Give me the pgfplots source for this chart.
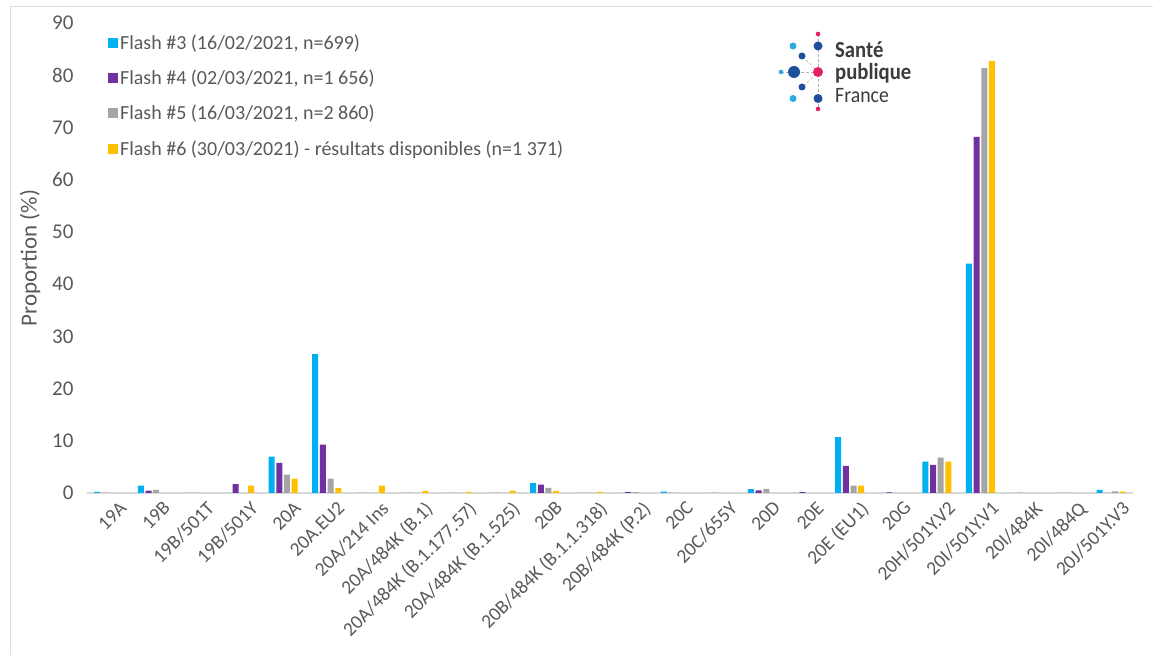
\documentclass[border=0pt]{standalone}
\usepackage{fontspec}
\setmainfont{Carlito}
\usepackage{pgfplots}
\pgfplotsset{compat=1.18}
\definecolor{cF3}{HTML}{00B0F0}
\definecolor{cF4}{HTML}{7030A0}
\definecolor{cF5}{HTML}{A5A5A5}
\definecolor{cF6}{HTML}{FFC000}
\definecolor{txt}{HTML}{595959}
\definecolor{lgblue}{HTML}{1F4E9B}
\definecolor{lgcyan}{HTML}{29ABE2}
\definecolor{lgpink}{HTML}{E5206A}
\definecolor{lgtext}{HTML}{3C3C3C}
\pgfplotsset{mylegend/.style={legend image code/.code={\fill[##1] (0pt,-5pt) rectangle (10pt,5pt);}}}
\begin{document}
\begin{tikzpicture}[x=1pt,y=1pt]
\useasboundingbox (0,0) rectangle (1153,655);
\draw[black!13, line width=1.2pt] (10.5,0) -- (10.5,648.5) -- (1153,648.5);
\begin{axis}[
  at={(87pt,162pt)}, anchor=south west,
  scale only axis, width=1046pt, height=470pt,
  xmin=-0.5, xmax=23.5, ymin=0, ymax=90,
  ybar=1.7pt, bar width=6pt,
  axis x line*=bottom, axis y line*=left,
  x axis line style={draw=black!15, line width=1.5pt},
  y axis line style={draw=none},
  major tick length=0pt,
  xtick={0,...,23},
  xticklabels={19A,19B,19B/501T,19B/501Y,20A,20A.EU2,20A/214 Ins,20A/484K (B.1),20A/484K (B.1.177.57),20A/484K (B.1.525),20B,20B/484K (B.1.1.318),20B/484K (P.2),20C,20C/655Y,20D,20E,20E (EU1),20G,20H/501Y.V2,20I/501Y.V1,20I/484K,20I/484Q,20J/501Y.V3},
  ytick={0,10,...,90},
  /pgf/number format/assume math mode=true,
  yticklabel style={font=\fontsize{21}{21}\selectfont, text=txt, xshift=-10pt},
  xticklabel style={rotate=45, anchor=north east, font=\fontsize{19.5}{20}\selectfont, text=txt, inner sep=1pt, yshift=-11pt, xshift=3pt},
  ylabel={Proportion (\%)},
  ylabel style={font=\fontsize{23}{23}\selectfont, text=txt, at={(axis description cs:-0.0545,0.5)}, anchor=center},
  legend style={at={(0.020,0.979)}, anchor=north west, draw=none, fill=none,
    font=\fontsize{20}{20}\selectfont, text=txt, row sep=15pt, inner sep=0pt,
    /tikz/every even column/.append style={column sep=9pt},
    legend cell align=left},
  legend cell align=left,
]
\addplot[fill=cF3, draw=none, mylegend] coordinates {
(0,0.2) (1,1.4) (2,0) (3,0) (4,6.95) (5,26.6) (6,0) (7,0) (8,0) (9,0) (10,1.9) (11,0)
(12,0) (13,0.25) (14,0) (15,0.75) (16,0) (17,10.7) (18,0) (19,6.0) (20,43.9) (21,0) (22,0) (23,0.6)};
\addplot[fill=cF4, draw=none, mylegend] coordinates {
(0,0) (1,0.45) (2,0) (3,1.7) (4,5.75) (5,9.25) (6,0) (7,0) (8,0) (9,0) (10,1.6) (11,0)
(12,0.15) (13,0) (14,0) (15,0.5) (16,0.15) (17,5.2) (18,0.1) (19,5.4) (20,68.2) (21,0) (22,0) (23,0)};
\addplot[fill=cF5, draw=none, mylegend] coordinates {
(0,0) (1,0.6) (2,0) (3,0) (4,3.5) (5,2.75) (6,0) (7,0) (8,0) (9,0) (10,1.0) (11,0)
(12,0.15) (13,0) (14,0) (15,0.8) (16,0) (17,1.4) (18,0) (19,6.75) (20,81.4) (21,0) (22,0) (23,0.3)};
\addplot[fill=cF6, draw=none, mylegend] coordinates {
(0,0) (1,0) (2,0) (3,1.4) (4,2.75) (5,0.95) (6,1.4) (7,0.4) (8,0.2) (9,0.45) (10,0.4) (11,0.2)
(12,0) (13,0) (14,0) (15,0) (16,0) (17,1.4) (18,0) (19,6.0) (20,82.7) (21,0) (22,0) (23,0.25)};
\legend{Flash \#3 (16/02/2021{,} n=699),Flash \#4 (02/03/2021{,} n=1 656),Flash \#5 (16/03/2021{,} n=2 860),Flash \#6 (30/03/2021) - résultats disponibles (n=1 371)}
\end{axis}
% logo
\begin{scope}[shift={(0,655)}, y=-1pt]
\draw[black!30, densely dashed, line width=0.6pt] (818,34) -- (818,109);
\draw[black!30, densely dashed, line width=0.6pt] (781,72) -- (818,72);
\draw[black!30, densely dashed, line width=0.6pt] (802,56) -- (818,72) -- (802,88);
\fill[lgpink] (818,34) circle (2.3);
\fill[lgblue] (818,46) circle (4.5);
\fill[lgcyan] (793,46) circle (3.5);
\fill[lgblue] (802,56) circle (3.5);
\fill[lgcyan] (781,72) circle (2.3);
\fill[lgblue] (794,72) circle (6);
\fill[lgpink] (818,72) circle (5);
\fill[lgblue] (802,87) circle (3.5);
\fill[lgcyan] (793,98.5) circle (3.5);
\fill[lgblue] (818,98.5) circle (4.5);
\fill[lgpink] (818,109) circle (2.3);
\node[anchor=west, inner sep=0, text=lgtext, font=\fontsize{23}{23}\selectfont\bfseries, xscale=0.9] at (835,50) {Santé};
\node[anchor=west, inner sep=0, text=lgtext, font=\fontsize{23}{23}\selectfont\bfseries, xscale=0.9] at (835,73) {publique};
\node[anchor=west, inner sep=0, text=lgtext, font=\fontsize{22}{22}\selectfont, xscale=0.9] at (835,96) {France};
\end{scope}
\end{tikzpicture}
\end{document}
